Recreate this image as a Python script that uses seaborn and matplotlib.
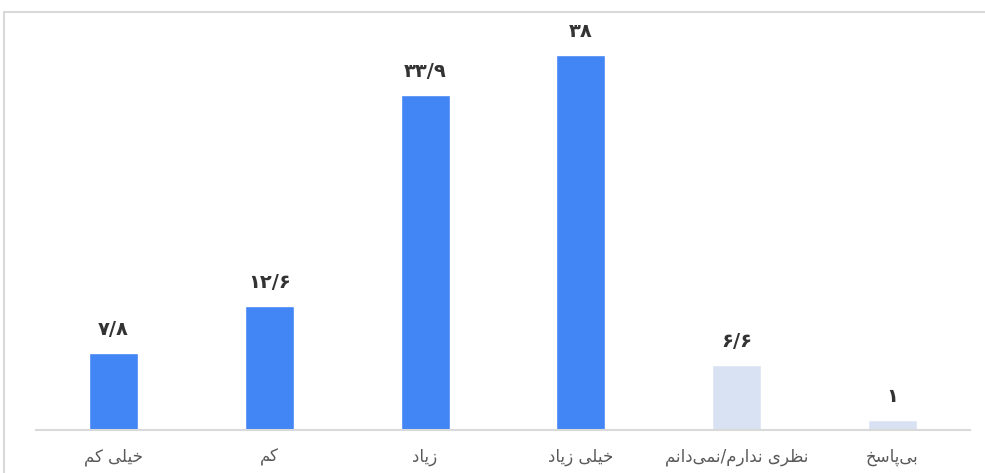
import matplotlib
matplotlib.use("Agg")
import matplotlib.pyplot as plt
import seaborn as sns
import pandas as pd
from matplotlib.patches import Rectangle

categories = ["خیلی کم", "کم", "زیاد", "خیلی زیاد", "نظری ندارم/نمی‌دانم", "بی‌پاسخ"]
values = [7.8, 12.6, 33.9, 38, 6.6, 1]
bar_colors = ["#4285F4", "#4285F4", "#4285F4", "#4285F4", "#D9E2F3", "#D9E2F3"]

FORMS = {
    'ا': ('\uFE8D', '\uFE8E'),
    'د': ('\uFEA9', '\uFEAA'),
    'ر': ('\uFEAD', '\uFEAE'),
    'ز': ('\uFEAF', '\uFEB0'),
    'خ': ('\uFEA5', '\uFEA6', '\uFEA7', '\uFEA8'),
    'ل': ('\uFEDD', '\uFEDE', '\uFEDF', '\uFEE0'),
    'م': ('\uFEE1', '\uFEE2', '\uFEE3', '\uFEE4'),
    'ن': ('\uFEE5', '\uFEE6', '\uFEE7', '\uFEE8'),
    'ظ': ('\uFEC5', '\uFEC6', '\uFEC7', '\uFEC8'),
    'س': ('\uFEB1', '\uFEB2', '\uFEB3', '\uFEB4'),
    'ب': ('\uFE8F', '\uFE90', '\uFE91', '\uFE92'),
    'پ': ('\uFB56', '\uFB57', '\uFB58', '\uFB59'),
    'ک': ('\uFB8E', '\uFB8F', '\uFB90', '\uFB91'),
    'ی': ('\uFBFC', '\uFBFD', '\uFBFE', '\uFBFF'),
}


def shape(text):
    out = []
    n = len(text)
    for i, ch in enumerate(text):
        if ch not in FORMS:
            if ch != '\u200c':
                out.append(ch)
            continue
        f = FORMS[ch]
        prev = text[i - 1] if i > 0 else None
        nxt = text[i + 1] if i < n - 1 else None
        jp = prev in FORMS and len(FORMS[prev]) == 4
        jn = len(f) == 4 and nxt in FORMS
        if jp and jn:
            out.append(f[3])
        elif jp:
            out.append(f[1])
        elif jn:
            out.append(f[2])
        else:
            out.append(f[0])
    return "".join(reversed(out))


def fa_num(v):
    s = f"{v:g}".replace(".", "/")
    return s.translate(str.maketrans("0123456789", "۰۱۲۳۴۵۶۷۸۹"))


df = pd.DataFrame({"cat": categories, "val": values})

sns.set_theme(style="white")
plt.rcParams["font.family"] = ["DejaVu Sans"]

fig = plt.figure(figsize=(9.85, 4.73), dpi=100)
fig.patches.append(Rectangle((4 / 985, -0.1), 1.2, 1.1 - 12 / 473, transform=fig.transFigure,
                             fill=False, edgecolor="#D9D9D9", linewidth=1.5))
ax = fig.add_axes([35.5 / 985, 1 - 430 / 473, 935 / 985, 415 / 473])

sns.barplot(data=df, x="cat", y="val", hue="cat", palette=bar_colors,
            width=0.315, legend=False, ax=ax, saturation=1)

ax.set_ylim(0, 415 / 9.87)
ax.set_xlim(-0.5, 5.5)
ax.set_yticks([])
ax.set_xlabel("")
ax.set_ylabel("")
for s in ["top", "right", "left"]:
    ax.spines[s].set_visible(False)
ax.spines["bottom"].set_color("#D9D9D9")
ax.spines["bottom"].set_linewidth(1.5)
ax.set_xticks(range(len(categories)))
ax.set_xticklabels([shape(c) for c in categories], fontsize=12, color="#595959")
ax.tick_params(axis="x", length=0, pad=13)

for i, v in enumerate(values):
    ax.annotate(fa_num(v), (i, v), xytext=(0, 17), textcoords="offset points",
                ha="center", va="center", fontsize=14, fontweight="bold",
                color="#333333", annotation_clip=False)

fig.savefig("out.png", dpi=100)
